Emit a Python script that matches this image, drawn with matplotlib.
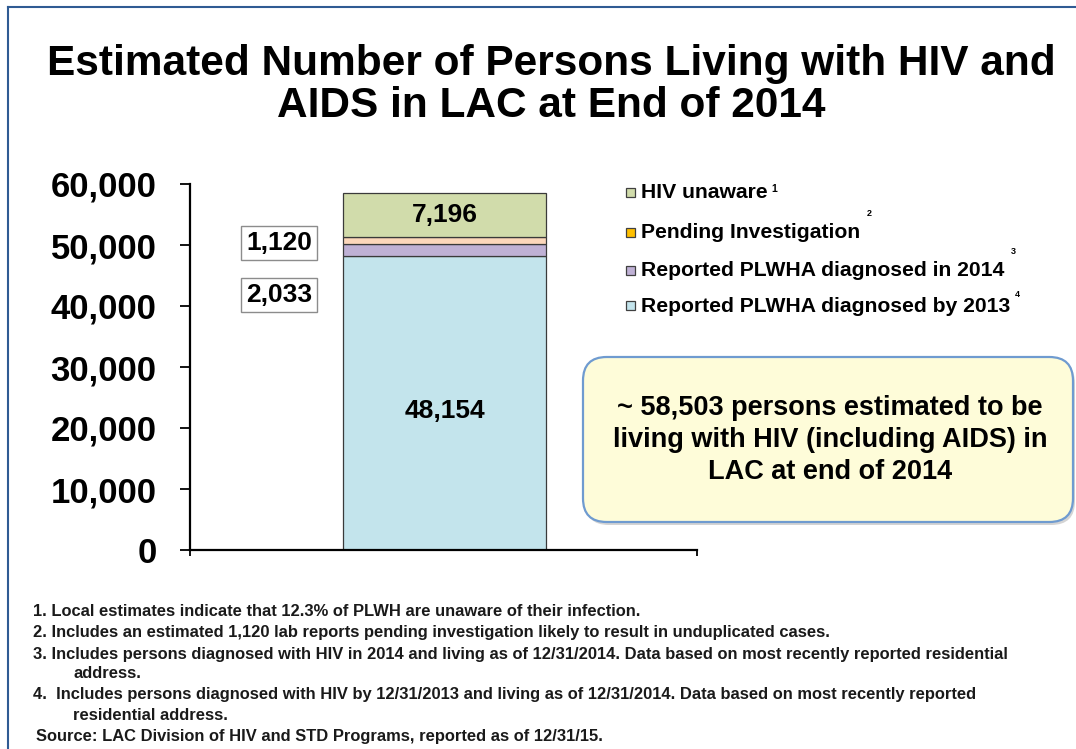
import matplotlib
matplotlib.use("Agg")
import matplotlib.pyplot as plt
from matplotlib.patches import Rectangle, FancyBboxPatch
from matplotlib import font_manager as fm

# ---- data ----
categories = ["LAC 2014"]
series_names = ["Reported PLWHA diagnosed by 2013", "Reported PLWHA diagnosed in 2014",
                "Pending Investigation", "HIV unaware"]
series_values = [48154, 2033, 1120, 7196]
bar_colors = ["#c3e4ec", "#bfb1d5", "#fcd7bb", "#d1dcab"]
legend_colors = ["#c3e4ec", "#bfb1d5", "#ffc000", "#d1dcab"]
legend_sups = ["4", "3", "2", "1"]
yticks = [0, 10000, 20000, 30000, 40000, 50000, 60000]
total_label = "~ 58,503 persons estimated to be\nliving with HIV (including AIDS) in\nLAC at end of 2014"
title = "Estimated Number of Persons Living with HIV and\nAIDS in LAC at End of 2014"
footnotes = [
    "1. Local estimates indicate that 12.3% of PLWH are unaware of their infection.",
    "2. Includes an estimated 1,120 lab reports pending investigation likely to result in unduplicated cases.",
    "3. Includes persons diagnosed with HIV in 2014 and living as of 12/31/2014. Data based on most recently reported residential",
    "address.",
    "4.  Includes persons diagnosed with HIV by 12/31/2013 and living as of 12/31/2014. Data based on most recently reported",
    "residential address.",
    "Source: LAC Division of HIV and STD Programs, reported as of 12/31/15.",
]

names = {f.name for f in fm.fontManager.ttflist}
MAIN = "Liberation Sans" if "Liberation Sans" in names else "DejaVu Sans"
plt.rcParams["font.family"] = [MAIN, "DejaVu Sans"]

W, H = 1076, 749
fig = plt.figure(figsize=(W / 100, H / 100), dpi=100)

def fx(px):
    return px / W

def fy(py):
    return 1 - py / H

# slide border
fig.add_artist(plt.Line2D([fx(8), fx(8)], [0, fy(7)], color="#2f5b93", lw=1.5))
fig.add_artist(plt.Line2D([fx(8), 1], [fy(7), fy(7)], color="#2f5b93", lw=1.5))

# title
fig.text(fx(551), fy(85), title, ha="center", va="center", fontsize=30.5,
         fontweight="bold", linespacing=1.06)

# axes
ax = fig.add_axes([fx(190), fy(550), fx(697) - fx(190), fy(184) - fy(550)])
ax.set_ylim(0, 60000)
x = [0]
bottom = 0
for name, v, c in zip(series_names, series_values, bar_colors):
    ax.bar(x, [v], bottom=[bottom], width=0.4, color=c, edgecolor="#3a3a3a", linewidth=0.9, zorder=2)
    bottom += v
ax.set_xlim(-0.502, 0.498)
ax.set_yticks(yticks)
ax.set_yticklabels([f"{t:,}" for t in yticks], fontsize=25, fontweight="bold")
ax.set_xticks([-0.502, 0.498])
ax.set_xticklabels([])
ax.tick_params(axis="y", direction="out", length=7.5, width=1.3, pad=16.5)
ax.tick_params(axis="x", direction="out", length=4, width=1.3)
for s in ["top", "right"]:
    ax.spines[s].set_visible(False)
for s in ["left", "bottom"]:
    ax.spines[s].set_linewidth(1.6)

# value labels
ax.text(0, series_values[0] * 0.474, f"{series_values[0]:,}", ha="center", va="center",
        fontsize=19, fontweight="bold")
top_bottom = sum(series_values[:3])
ax.text(0, top_bottom + series_values[3] / 2, f"{series_values[3]:,}", ha="center", va="center",
        fontsize=19, fontweight="bold")
box = dict(boxstyle="square,pad=0.19", fc="white", ec="#8c8c8c", lw=1.0)
ax.text(-0.326, 50400, f"{series_values[2]:,}", ha="center", va="center",
        fontsize=19, fontweight="bold", bbox=box)
ax.text(-0.326, 41800, f"{series_values[1]:,}", ha="center", va="center",
        fontsize=19, fontweight="bold", bbox=box)

# legend (manual)
rows_y = [305, 270, 232, 192]
sup_pos = [(1015, 294), (1011, 251), (867, 214), (771, 189)]
for name, c, ry, sup, sp in zip(series_names, legend_colors, rows_y, legend_sups, sup_pos):
    fig.add_artist(Rectangle((fx(626), fy(ry + 5)), fx(9), fy(0) - fy(9), transform=fig.transFigure,
                             fc=c, ec="#404040", lw=0.9))
    fig.text(fx(641), fy(ry + 1), name, ha="left", va="center", fontsize=15.2, fontweight="bold")
    fig.text(fx(sp[0]), fy(sp[1]), sup, ha="left", va="center",
             fontsize=7.5 if sup == "1" else 6.5, fontweight="bold")

# callout box
x0, x1, y0, y1 = 583, 1073, 357, 522
shadow = FancyBboxPatch((fx(x0 + 2), fy(y1 + 3)), fx(x1) - fx(x0), fy(y0) - fy(y1),
                        boxstyle="round,pad=0,rounding_size=0.022", transform=fig.transFigure,
                        fc="#b8b8b8", ec="none", alpha=0.6, mutation_aspect=W / H)
fig.add_artist(shadow)
callout = FancyBboxPatch((fx(x0), fy(y1)), fx(x1) - fx(x0), fy(y0) - fy(y1),
                         boxstyle="round,pad=0,rounding_size=0.022", transform=fig.transFigure,
                         fc="#fefcd9", ec="#6f9bd0", lw=1.6, mutation_aspect=W / H)
fig.add_artist(callout)
fig.text(fx(830), fy(440), total_label, ha="center", va="center", fontsize=19.5,
         fontweight="bold", linespacing=1.28)

# footnotes
fn_x = [33, 33, 33, 73, 33, 73, 36]
fn_y = [612, 633, 654, 674, 695, 716, 737]
for t, xx, yy in zip(footnotes, fn_x, fn_y):
    fig.text(fx(xx), fy(yy), t, ha="left", va="center", fontsize=11.9, fontweight="bold",
             color="#1a1a1a")

fig.savefig("out.png", dpi=100)
